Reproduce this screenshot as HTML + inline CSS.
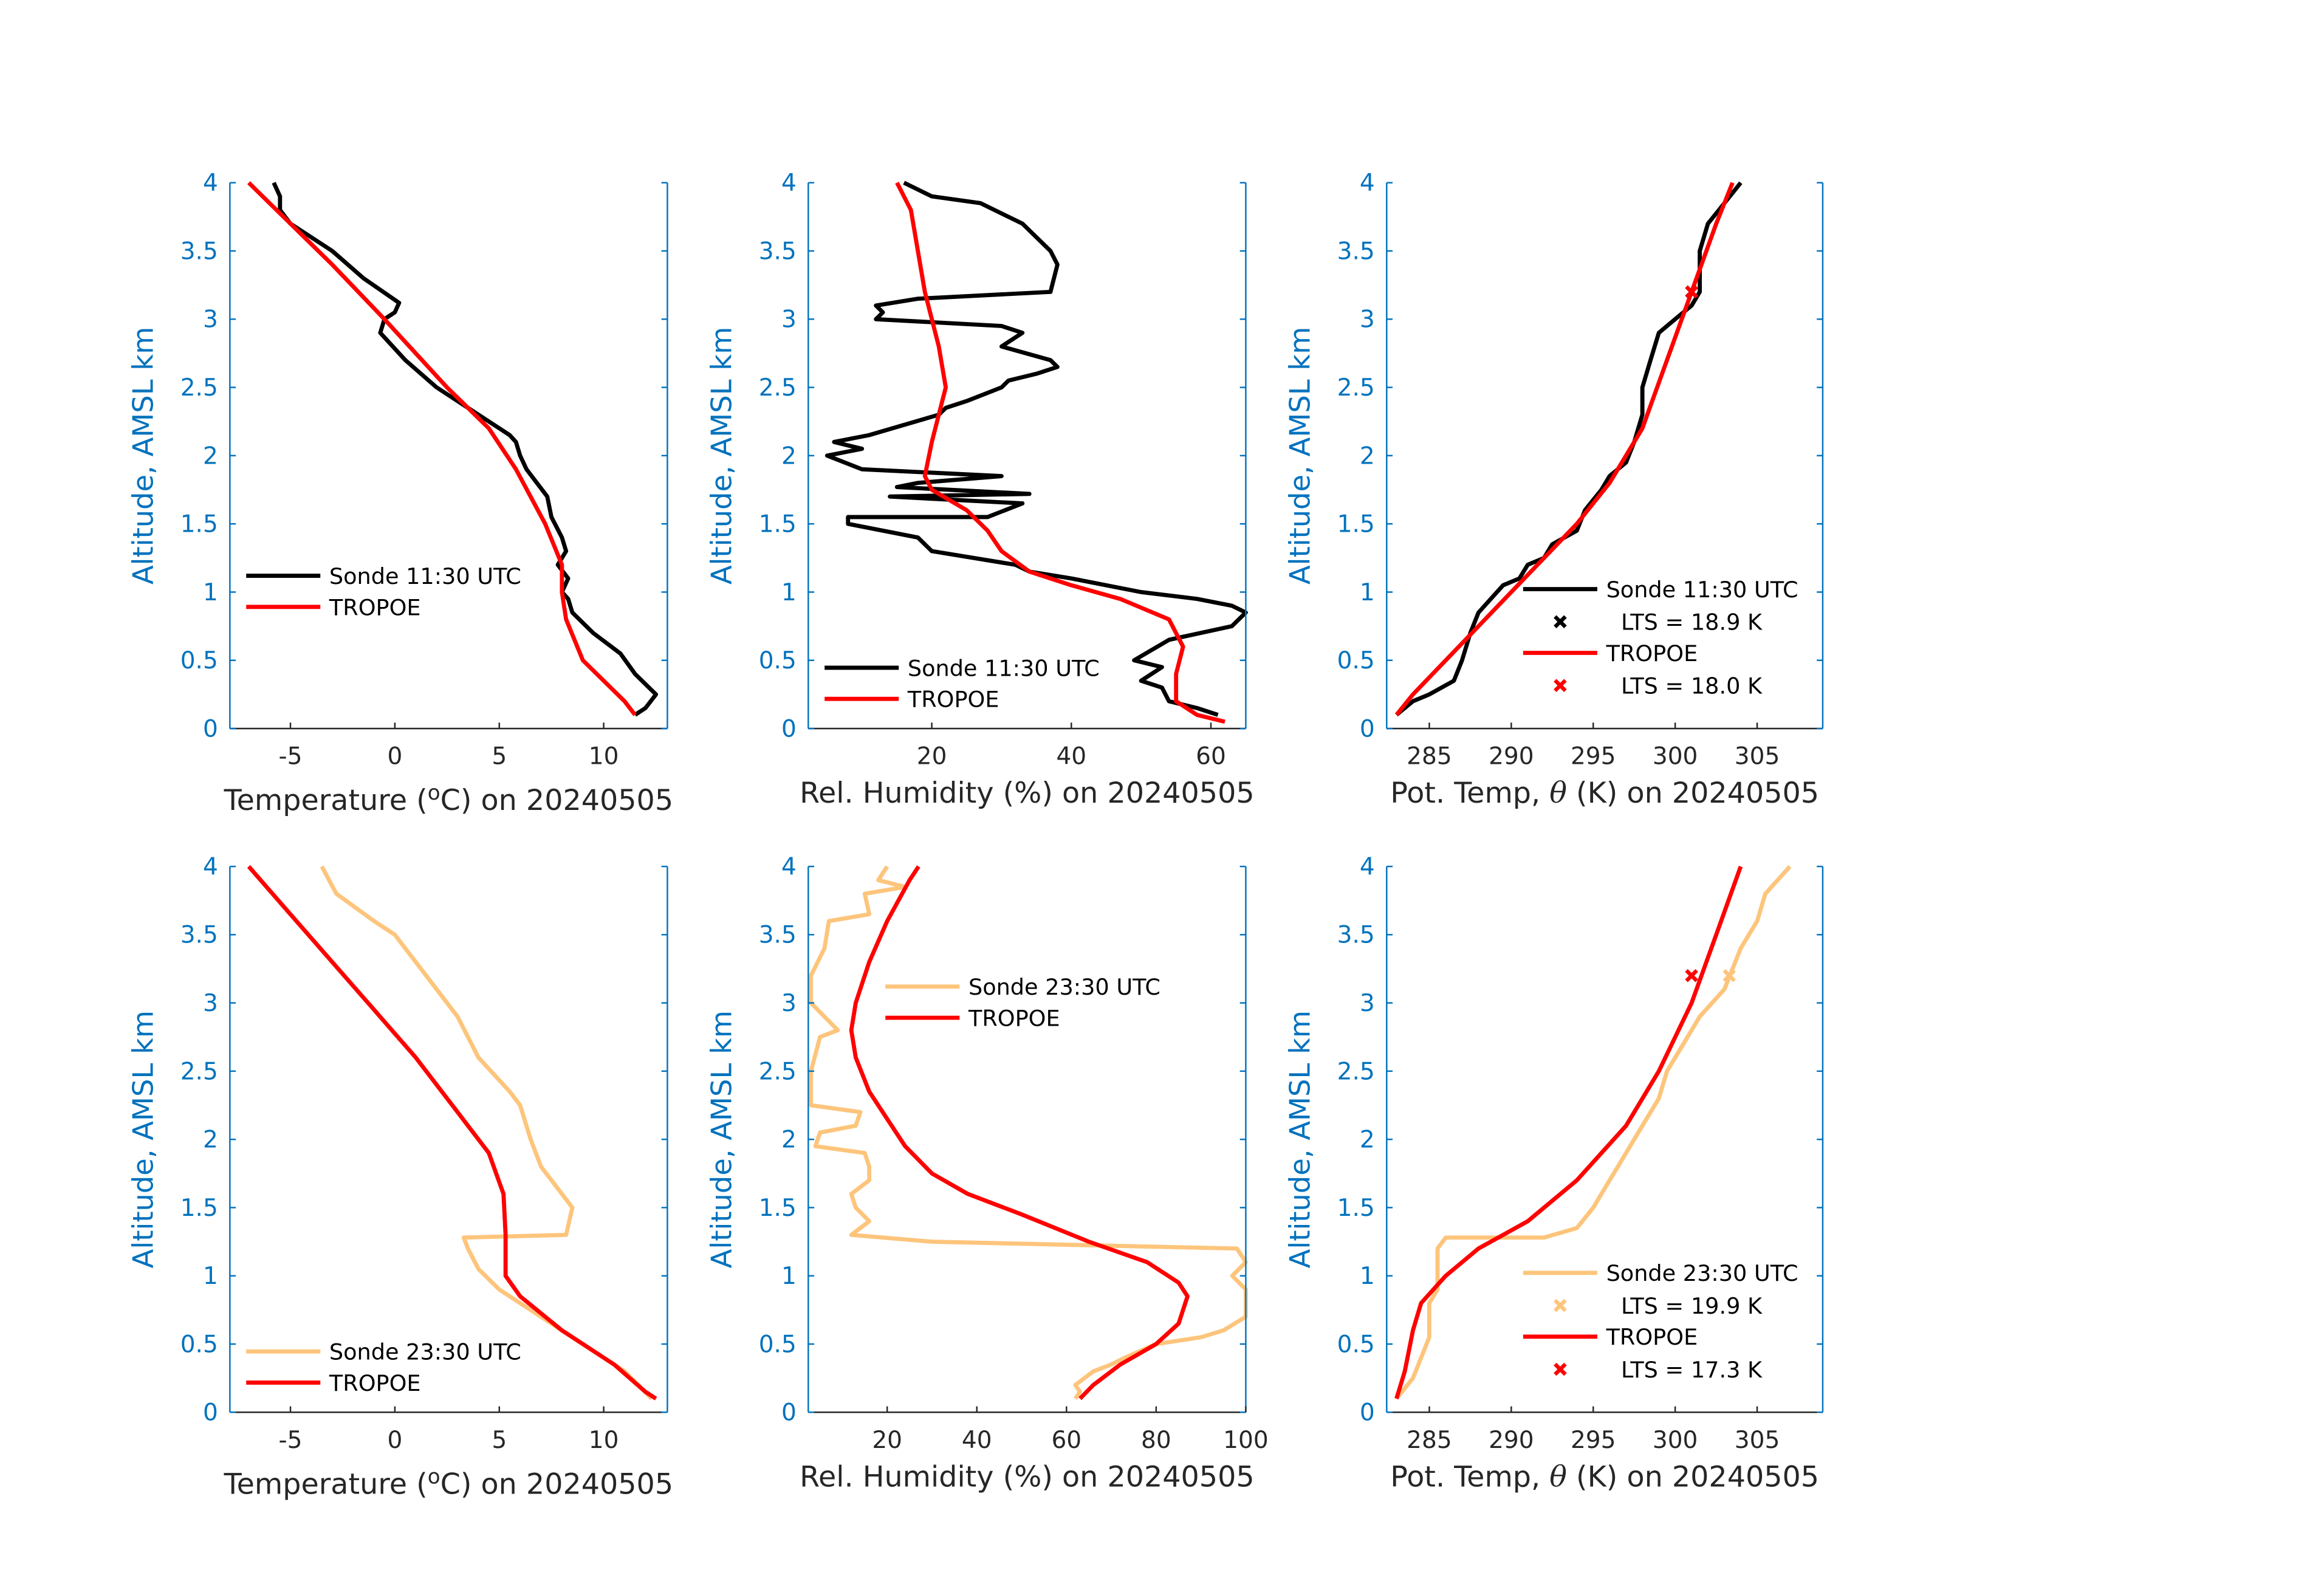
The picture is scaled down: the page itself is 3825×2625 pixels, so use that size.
<!DOCTYPE html>
<html><head><meta charset="utf-8">
<style>
html,body{margin:0;padding:0;background:#fff;}
svg{display:block;}
text{font-family:"DejaVu Sans","Liberation Sans",sans-serif;}
</style></head>
<body>
<svg id="fig" width="3825" height="2625" viewBox="0 0 1567 1075" xmlns="http://www.w3.org/2000/svg">
<rect x="0" y="0" width="1567" height="1075" fill="#fff"/>
</svg>
<script>
// ---- data: [value, altitude km] ----
const p1Sonde=[[11.5,0.1],[12,0.15],[12.5,0.25],[11.5,0.4],[10.8,0.55],[9.5,0.7],[8.5,0.85],[8.3,0.95],[8.0,1.0],[8.3,1.1],[7.8,1.2],[8.2,1.3],[8.0,1.4],[7.5,1.55],[7.3,1.7],[6.8,1.8],[6.3,1.9],[6.0,2.0],[5.8,2.1],[5.5,2.15],[4.0,2.3],[2,2.5],[0.5,2.7],[-0.7,2.9],[-0.5,3.0],[0,3.05],[0.2,3.12],[-1.5,3.3],[-3,3.5],[-5,3.7],[-5.5,3.8],[-5.5,3.9],[-5.8,4.0]];
const p1Trop=[[11.5,0.1],[11,0.2],[9,0.5],[8.2,0.8],[8.0,1.0],[8.0,1.2],[7.2,1.5],[5.8,1.9],[4.5,2.2],[2.5,2.5],[-0.5,3.0],[-3,3.4],[-7,4.0]];
const p2Sonde=[[61,0.1],[58,0.15],[54,0.2],[53,0.3],[50,0.35],[53,0.45],[49,0.5],[54,0.65],[63,0.75],[65,0.85],[63,0.9],[58,0.95],[50,1.0],[40,1.1],[34,1.15],[32,1.2],[20,1.3],[18,1.4],[8,1.5],[8,1.55],[28,1.55],[33,1.65],[14,1.7],[34,1.72],[15,1.77],[18,1.8],[30,1.85],[10,1.9],[5,2.0],[10,2.05],[6,2.1],[11,2.15],[21,2.3],[22,2.35],[25,2.4],[30,2.5],[31,2.55],[35,2.6],[38,2.65],[37,2.7],[30,2.8],[33,2.9],[30,2.95],[12,3.0],[13,3.05],[12,3.1],[18,3.15],[37,3.2],[38,3.4],[37,3.5],[33,3.7],[27,3.85],[20,3.9],[18,3.95],[16,4.0]];
const p2Trop=[[62,0.05],[58,0.1],[55,0.2],[55,0.4],[56,0.6],[54,0.8],[47,0.95],[40,1.05],[34,1.15],[30,1.3],[28,1.45],[25,1.6],[20,1.75],[19,1.85],[20,2.1],[22,2.5],[21,2.8],[19,3.2],[18,3.5],[17,3.8],[15,4.0]];
const p3Sonde=[[283,0.1],[284,0.2],[285,0.25],[286.5,0.35],[287,0.5],[287.5,0.7],[288,0.85],[289.5,1.05],[290.5,1.1],[291,1.2],[292,1.25],[292.5,1.35],[294,1.45],[294.5,1.6],[295.5,1.75],[296,1.85],[297,1.95],[297.5,2.1],[298,2.3],[298,2.5],[298.5,2.7],[299,2.9],[300,3.0],[301,3.1],[301.5,3.2],[301.5,3.5],[302,3.7],[303,3.85],[304,4.0]];
const p3Trop=[[283,0.1],[284,0.25],[286,0.5],[288,0.75],[290,1.0],[292,1.25],[294,1.5],[296,1.8],[298,2.2],[299.5,2.7],[301,3.2],[302.5,3.7],[303.5,4.0]];
const p3Lts=[[301,3.2,'#000'],[301,3.2,'#f00']];
const p4Sonde=[[12.3,0.1],[11,0.3],[9,0.5],[7,0.7],[5,0.9],[4,1.05],[3.5,1.2],[3.3,1.28],[8.2,1.3],[8.5,1.5],[8,1.6],[7,1.8],[6.5,2.0],[6,2.25],[5.5,2.35],[4,2.6],[3,2.9],[2,3.1],[1,3.3],[0,3.5],[-1,3.6],[-2.8,3.8],[-3.5,4.0]];
const p4Trop=[[12.5,0.1],[12,0.15],[10.5,0.35],[8,0.6],[6,0.85],[5.3,1.0],[5.3,1.3],[5.2,1.6],[4.5,1.9],[3,2.2],[1,2.6],[-1,2.95],[-3,3.3],[-5,3.65],[-7,4.0]];
const p5Sonde=[[62,0.1],[63,0.15],[62,0.2],[66,0.3],[70,0.35],[73,0.4],[80,0.5],[90,0.55],[95,0.6],[100,0.7],[100,0.9],[97,1.0],[100,1.1],[98,1.2],[30,1.25],[12,1.3],[16,1.4],[13,1.5],[12,1.6],[16,1.7],[16,1.8],[15,1.9],[4,1.95],[5,2.05],[13,2.1],[14,2.2],[3,2.25],[3,2.5],[5,2.75],[9,2.8],[3,3.0],[3,3.2],[6,3.4],[7,3.6],[16,3.65],[15,3.8],[24,3.85],[18,3.9],[20,4.0]];
const p5Trop=[[63,0.1],[66,0.2],[72,0.35],[80,0.5],[85,0.65],[87,0.85],[85,0.95],[78,1.1],[65,1.25],[50,1.45],[38,1.6],[30,1.75],[24,1.95],[20,2.15],[16,2.35],[13,2.6],[12,2.8],[13,3.0],[16,3.3],[20,3.6],[25,3.9],[27,4.0]];
const p6Sonde=[[283,0.1],[284,0.25],[284.5,0.4],[285,0.55],[285,0.8],[285.5,0.9],[285.5,1.2],[286,1.28],[292,1.28],[294,1.35],[295,1.5],[296,1.7],[297,1.9],[298,2.1],[299,2.3],[299.5,2.5],[300.5,2.7],[301.5,2.9],[303,3.1],[304,3.4],[305,3.6],[305.5,3.8],[307,4.0]];
const p6Trop=[[283,0.1],[283.5,0.3],[284,0.6],[284.5,0.8],[286,1.0],[288,1.2],[291,1.4],[294,1.7],[297,2.1],[299,2.5],[301,3.0],[302.5,3.5],[304,4.0]];
const p6Lts=[[303.3,3.2,'#FDC57C'],[301,3.2,'#f00']];
const yTicks=[0,0.5,1,1.5,2,2.5,3,3.5,4];
const yTickLabels=['0','0.5','1','1.5','2','2.5','3','3.5','4'];
const tempTicks=[-5,0,5,10];
const rh1Ticks=[20,40,60];
const rh2Ticks=[20,40,60,80,100];
const thetaTicks=[285,290,295,300,305];

const NS='http://www.w3.org/2000/svg';
const svg=document.getElementById('fig');
const BLUE='#0072BD', ORANGE='#FDC57C', GRAY='#262626';
function el(tag,attrs,parent){const e=document.createElementNS(NS,tag);for(const k in attrs)e.setAttribute(k,attrs[k]);(parent||svg).appendChild(e);return e;}

const cols=[[155,450],[545,840],[935,1229]];
const rows=[[123,491],[584,952]];
const panels=[
 {c:0,r:0,xr:[-7.9,13.05],ticks:tempTicks,series:[[p1Sonde,'#000'],[p1Trop,'#f00']],xl:'temp',name:'temperature-1130'},
 {c:1,r:0,xr:[2.3,65],ticks:rh1Ticks,series:[[p2Sonde,'#000'],[p2Trop,'#f00']],xl:'rh',name:'humidity-1130'},
 {c:2,r:0,xr:[282.4,309],ticks:thetaTicks,series:[[p3Sonde,'#000'],[p3Trop,'#f00']],xl:'theta',lts:p3Lts,name:'theta-1130'},
 {c:0,r:1,xr:[-7.9,13.05],ticks:tempTicks,series:[[p4Sonde,ORANGE],[p4Trop,'#f00']],xl:'temp',name:'temperature-2330'},
 {c:1,r:1,xr:[2.4,100],ticks:rh2Ticks,series:[[p5Sonde,ORANGE],[p5Trop,'#f00']],xl:'rh',name:'humidity-2330'},
 {c:2,r:1,xr:[282.4,309],ticks:thetaTicks,series:[[p6Sonde,ORANGE],[p6Trop,'#f00']],xl:'theta',lts:p6Lts,name:'theta-2330'}
];
function xMark(g,x,y,color){
  el('path',{d:`M${x-3.5} ${y-3.5}L${x+3.5} ${y+3.5}M${x-3.5} ${y+3.5}L${x+3.5} ${y-3.5}`,stroke:color,'stroke-width':2.6,fill:'none'},g);
}
panels.forEach(p=>{
  const [x0,x1]=cols[p.c],[yT,yB]=rows[p.r];
  const sx=v=>x0+(v-p.xr[0])/(p.xr[1]-p.xr[0])*(x1-x0);
  const sy=v=>yB-(v/4)*(yB-yT);
  const g=el('g',{});
  
  
  p.series.forEach((s,i)=>{
    const d=s[0].map((pt,j)=>(j?'L':'M')+sx(pt[0]).toFixed(1)+' '+sy(pt[1]).toFixed(1)).join('');
    const path=el('path',{d:d,stroke:s[1],'stroke-width':2.8,fill:'none','stroke-linejoin':'round'},g);
    
    
  });
  if(p.lts){p.lts.forEach(m=>xMark(g,sx(m[0]),sy(m[1]),m[2]));}
  el('line',{x1:x0,y1:yB,x2:x1,y2:yB,stroke:GRAY,'stroke-width':1},g);
  el('line',{x1:x0,y1:yT,x2:x0,y2:yB,stroke:BLUE,'stroke-width':1},g);
  el('line',{x1:x1,y1:yT,x2:x1,y2:yB,stroke:BLUE,'stroke-width':1},g);
  yTicks.forEach((t,i)=>{
    el('line',{x1:x0,y1:sy(t),x2:x0+4,y2:sy(t),stroke:BLUE,'stroke-width':1},g);
    el('line',{x1:x1,y1:sy(t),x2:x1-4,y2:sy(t),stroke:BLUE,'stroke-width':1},g);
    const tx=el('text',{x:x0-8,y:sy(t)+5.5,'text-anchor':'end','font-size':16,fill:BLUE},g);
    tx.textContent=yTickLabels[i];
  });
  p.ticks.forEach(t=>{
    el('line',{x1:sx(t),y1:yB,x2:sx(t),y2:yB-4,stroke:GRAY,'stroke-width':1},g);
    const tx=el('text',{x:sx(t),y:yB+24,'text-anchor':'middle','font-size':16,fill:GRAY},g);
    tx.textContent=String(t);
  });
  const cy=(yT+yB)/2, lx=x0-52;
  const yl=el('text',{x:lx,y:cy,transform:`rotate(-90 ${lx} ${cy})`,'text-anchor':'middle','font-size':19,fill:BLUE},g);
  
  
  yl.textContent='Altitude, AMSL km';
  const xc=(x0+x1)/2;
  let xl;
  if(p.xl==='temp'){
    xl=el('text',{x:xc,y:yB+55,'text-anchor':'middle','font-size':19.5,fill:GRAY},g);
    xl.innerHTML='Temperature (<tspan dy="-7" font-size="14">o</tspan><tspan dy="7">C) on 20240505</tspan>';
  } else if(p.xl==='rh'){
    xl=el('text',{x:xc,y:yB+50,'text-anchor':'middle','font-size':19.5,fill:GRAY},g);
    xl.textContent='Rel. Humidity (%) on 20240505';
  } else {
    xl=el('text',{x:xc,y:yB+50,'text-anchor':'middle','font-size':19.5,fill:GRAY},g);
    xl.innerHTML='Pot. Temp, <tspan font-style="italic" font-family="DejaVu Serif, serif">θ</tspan> (K) on 20240505';
  }
  
  
});

function legend(items,lx,name){
  const g=el('g',{});
  
  
  items.forEach(it=>{
    if(it.line){
      el('line',{x1:lx,y1:it.y,x2:lx+50,y2:it.y,stroke:it.c,'stroke-width':2.8},g);
      const t=el('text',{x:lx+56,y:it.y+5.5,'font-size':15,fill:'#000'},g);t.textContent=it.t;
    } else {
      xMark(g,lx+25,it.y,it.c);
      const t=el('text',{x:lx+66,y:it.y+5.5,'font-size':15,fill:'#000'},g);t.textContent=it.t;
    }
  });
}
legend([{line:1,y:388,c:'#000',t:'Sonde 11:30 UTC'},{line:1,y:409,c:'#f00',t:'TROPOE'}],166,'legend-temperature-1130');
legend([{line:1,y:450,c:'#000',t:'Sonde 11:30 UTC'},{line:1,y:471,c:'#f00',t:'TROPOE'}],556,'legend-humidity-1130');
legend([{line:1,y:397,c:'#000',t:'Sonde 11:30 UTC'},{y:419,c:'#000',t:'LTS = 18.9 K'},{line:1,y:440,c:'#f00',t:'TROPOE'},{y:462,c:'#f00',t:'LTS = 18.0 K'}],1027,'legend-theta-1130');
legend([{line:1,y:911,c:ORANGE,t:'Sonde 23:30 UTC'},{line:1,y:932,c:'#f00',t:'TROPOE'}],166,'legend-temperature-2330');
legend([{line:1,y:665,c:ORANGE,t:'Sonde 23:30 UTC'},{line:1,y:686,c:'#f00',t:'TROPOE'}],597,'legend-humidity-2330');
legend([{line:1,y:858,c:ORANGE,t:'Sonde 23:30 UTC'},{y:880,c:ORANGE,t:'LTS = 19.9 K'},{line:1,y:901,c:'#f00',t:'TROPOE'},{y:923,c:'#f00',t:'LTS = 17.3 K'}],1027,'legend-theta-2330');
</script>
</body></html>
